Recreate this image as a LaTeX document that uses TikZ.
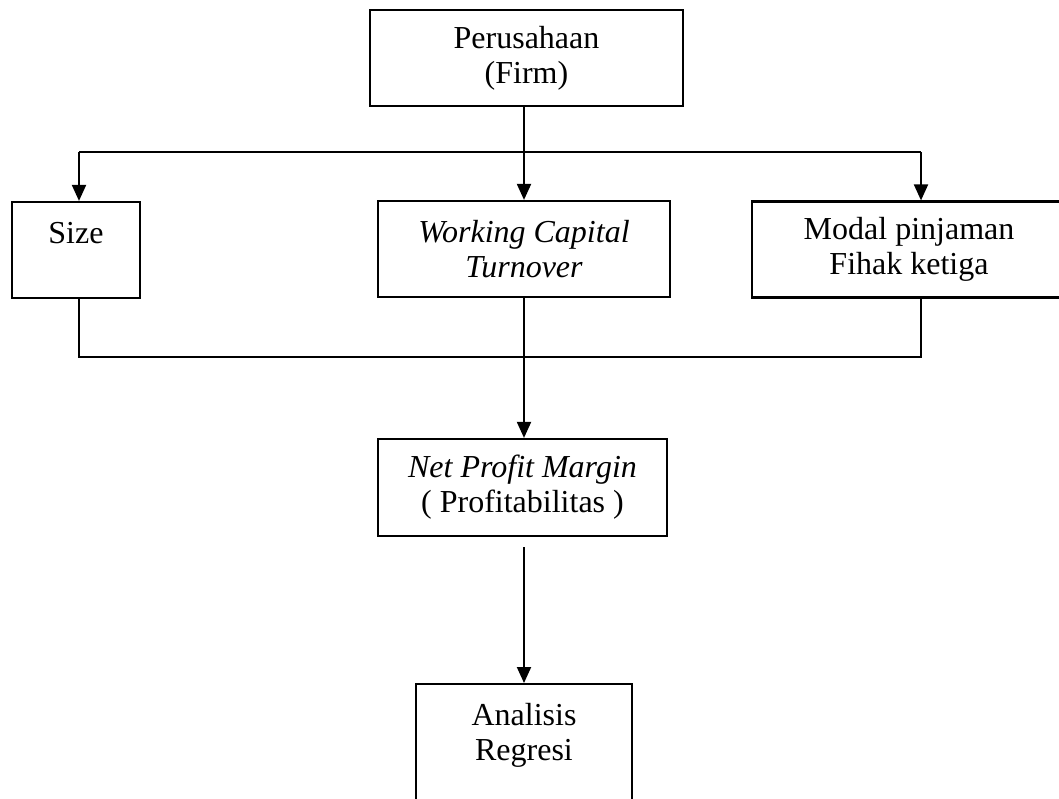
\documentclass[tikz,border=0pt]{standalone}
\usepackage{fontspec}
\setmainfont{Liberation Serif}
\usetikzlibrary{arrows.meta}

\begin{document}
\begin{tikzpicture}[
  x=0.5pt, y=-0.5pt,
  box/.style={
    draw=black, line width=1.1pt, align=center, inner sep=0pt,
    font=\fontsize{16}{17.5}\selectfont, minimum height=48pt
  },
  wire/.style={draw=black, line width=1pt},
  arr/.style={-{Triangle[length=8pt,width=7pt]}, draw=black, line width=1pt}
]
  \useasboundingbox (0,0) rectangle (1059,798);
  \clip (0,0) rectangle (1059,798);

  \node[box, minimum width=156.5pt] (firm) at (526.5,58) {Perusahaan\\(Firm)};
  \node[box, minimum width=64pt] (size) at (76,250) {Size\\~};
  \node[box, minimum width=146pt] (wc) at (524,249) {\textit{Working Capital}\\\textit{Turnover}};
  \node[box, minimum width=157pt] (modal) at (909,249.5) {Modal pinjaman\\Fihak ketiga};
  \node[box, minimum width=144.5pt, minimum height=48.5pt] (npm) at (522.5,487.5) {\textit{Net Profit Margin}\\( Profitabilitas )};
  \node[box, minimum width=108pt, minimum height=65pt, anchor=north] (reg) at (524,683) {Analisis\\Regresi\\~};

  \coordinate (split) at (524,152);
  \coordinate (join) at (524,357);

  \draw[wire] (wc.north |- firm.south) -- (split);
  \draw[wire] ([xshift=1.5pt]size.north |- split) -- ([xshift=6pt]modal.north |- split);
  \draw[arr] ([xshift=1.5pt]size.north |- split) -- ([xshift=1.5pt]size.north);
  \draw[arr] (split) -- (wc.north);
  \draw[arr] ([xshift=6pt]modal.north |- split) -- ([xshift=6pt]modal.north);

  \draw[wire] ([xshift=1.5pt]size.south) |- (join) -| ([xshift=6pt]modal.south);
  \draw[wire] (wc.south) -- (join);
  \draw[arr] (join) -- (npm.north -| join);
  \draw[arr, shorten <=5pt] (npm.south -| join) -- (reg.north);
\end{tikzpicture}
\end{document}
